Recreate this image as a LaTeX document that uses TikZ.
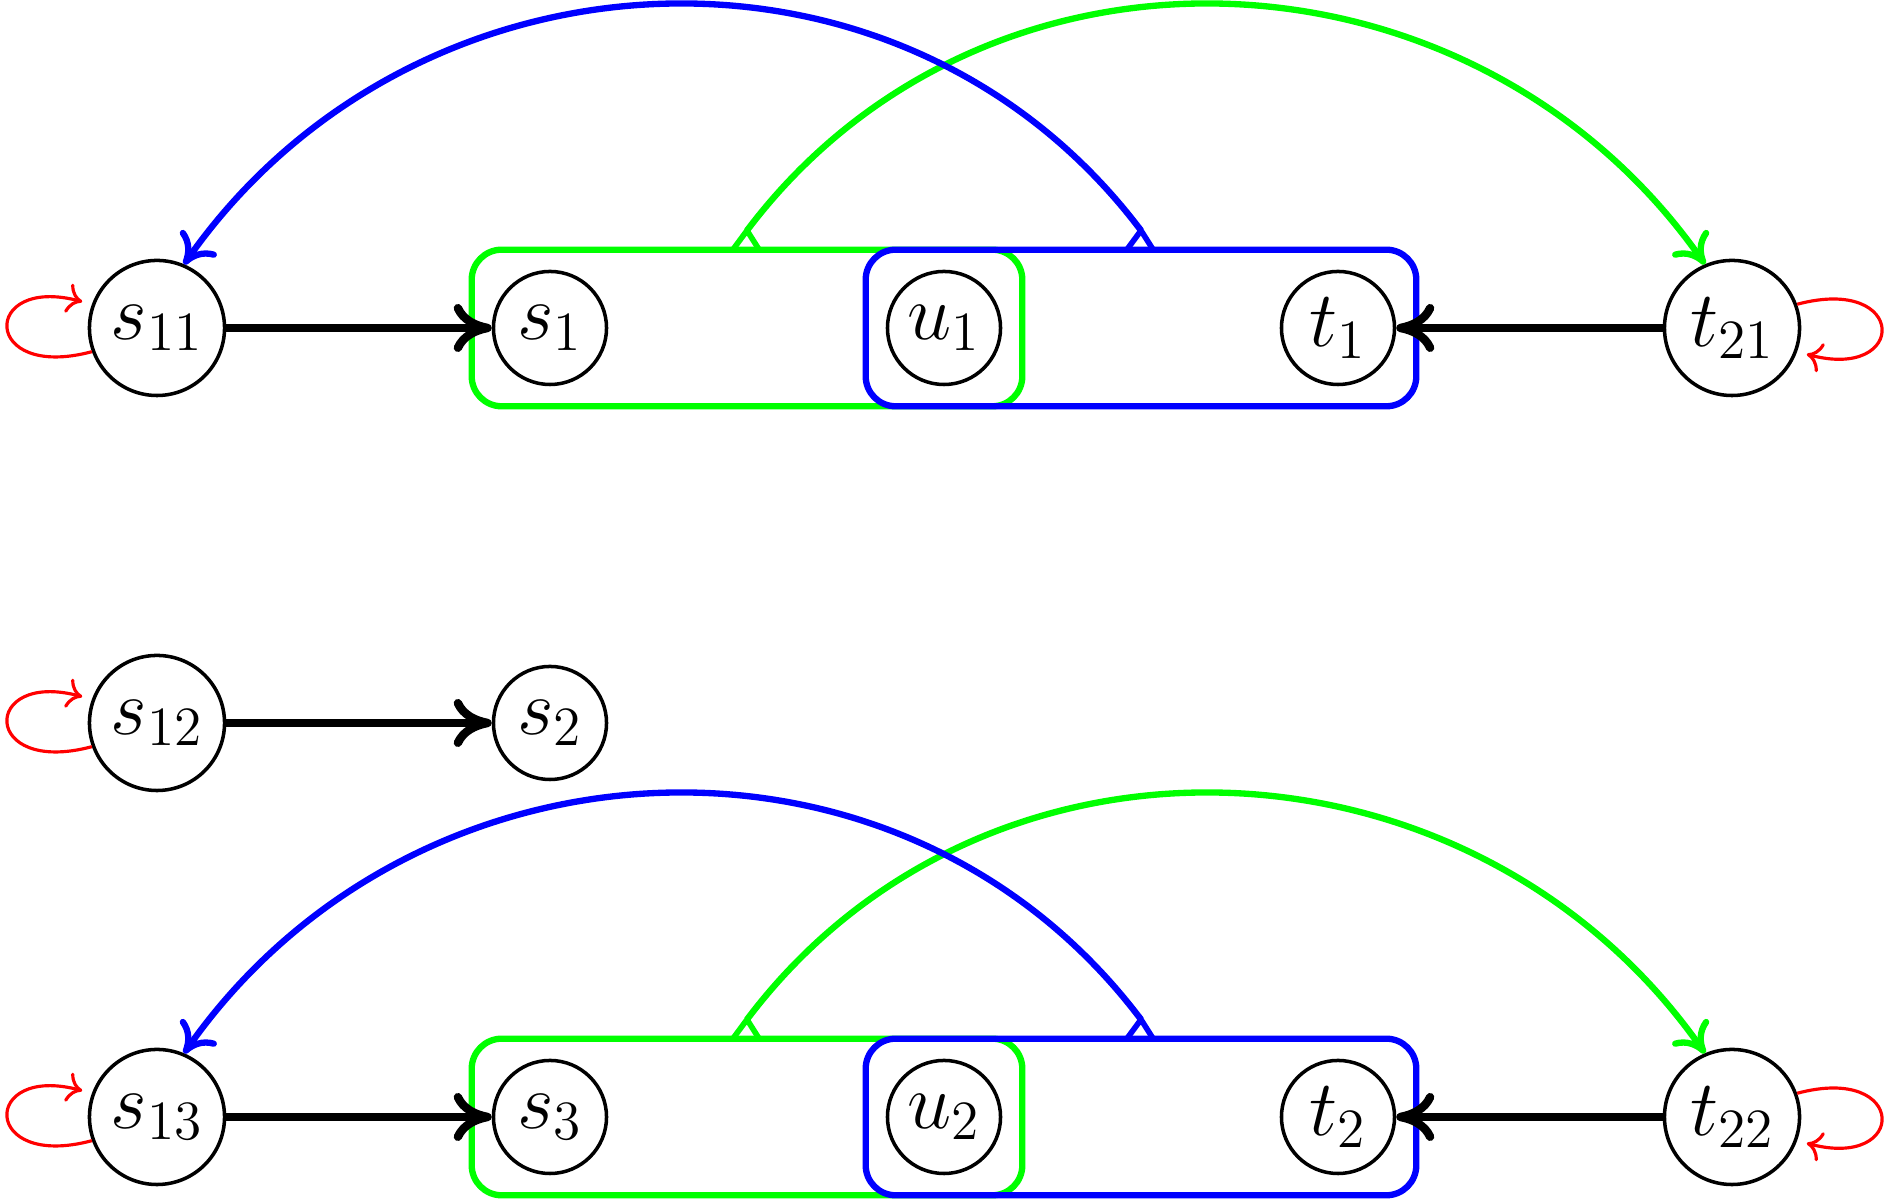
\RequirePackage{fix-cm}
\documentclass[tikz,border=0pt]{standalone}
\usetikzlibrary{arrows.meta,fit}
\definecolor{pgreen}{RGB}{0,255,0}
\definecolor{pblue}{RGB}{0,0,255}
\definecolor{pred}{RGB}{255,0,0}
\tikzset{
  state/.style={circle, draw=black, line width=1pt, inner sep=0pt, font=\fontsize{22.5}{27}\selectfont},
  bigstate/.style={state, minimum size=1.35cm},
  smallstate/.style={state, minimum size=1.13cm},
  blk/.style={black, line width=2.4pt, -{To[length=0.38cm,width=0.48cm]}},
  loopred/.style={pred, line width=0.9pt, -{To[length=0.15cm,width=0.3cm]}, shorten >=0.1cm},
  greenbox/.style={draw=pgreen, line width=1.8pt, rounded corners=0.3cm, inner sep=0.2cm},
  bluebox/.style={draw=pblue, line width=1.8pt, rounded corners=0.3cm, inner sep=0.2cm},
  arcg/.style={pgreen, line width=1.8pt, -{To[length=0.28cm,width=0.44cm]}},
  arcb/.style={pblue, line width=1.8pt, -{To[length=0.28cm,width=0.44cm]}},
  wedgeg/.style={pgreen, line width=1.6pt, line join=miter},
  wedgeb/.style={pblue, line width=1.6pt, line join=miter}
}
\begin{document}
\begin{tikzpicture}[x=0.01cm,y=0.01cm]
\useasboundingbox (0,0) rectangle (1890,1201);
% top block
\node[bigstate] (s11) at (157,873) {$s_{11}$};
\node[smallstate] (s1) at (550,873) {$s_1$};
\node[smallstate] (u1) at (944,873) {$u_1$};
\node[smallstate] (t1) at (1338,873) {$t_1$};
\node[bigstate] (t21) at (1732,873) {$t_{21}$};
\node[greenbox, fit=(s1)(u1)] (gb1) {};
\node[bluebox, fit=(u1)(t1)] (bb1) {};
\coordinate (ga1) at ([yshift=0.16cm]gb1.north);
\coordinate (ba1) at ([yshift=0.16cm]bb1.north);
\draw[wedgeg] ([shift={(-0.14cm,-0.03cm)}]gb1.north) -- (ga1) -- ([shift={(0.12cm,-0.03cm)}]gb1.north);
\draw[arcg] (ga1) to[out=53,in=125,distance=4.0cm] (t21.113);
\draw[wedgeb] ([shift={(-0.14cm,-0.03cm)}]bb1.north) -- (ba1) -- ([shift={(0.12cm,-0.03cm)}]bb1.north);
\draw[arcb] (ba1) to[out=127,in=55,distance=4.0cm] (s11.67);
\draw[blk] (s11) -- (s1);
\draw[blk] (t21) -- (t1);
\draw[loopred] (s11.200) to[out=195,in=165,distance=1.15cm] (s11.160);
\draw[loopred] (t21.20) to[out=15,in=-15,distance=1.15cm] (t21.-20);
% middle
\node[bigstate] (s12) at (157,478) {$s_{12}$};
\node[smallstate] (s2) at (550,478) {$s_2$};
\draw[blk] (s12) -- (s2);
\draw[loopred] (s12.200) to[out=195,in=165,distance=1.15cm] (s12.160);
% bottom block
\node[bigstate] (s13) at (157,84) {$s_{13}$};
\node[smallstate] (s3) at (550,84) {$s_3$};
\node[smallstate] (u2) at (944,84) {$u_2$};
\node[smallstate] (t2) at (1338,84) {$t_2$};
\node[bigstate] (t22) at (1732,84) {$t_{22}$};
\node[greenbox, fit=(s3)(u2)] (gb2) {};
\node[bluebox, fit=(u2)(t2)] (bb2) {};
\coordinate (ga2) at ([yshift=0.16cm]gb2.north);
\coordinate (ba2) at ([yshift=0.16cm]bb2.north);
\draw[wedgeg] ([shift={(-0.14cm,-0.03cm)}]gb2.north) -- (ga2) -- ([shift={(0.12cm,-0.03cm)}]gb2.north);
\draw[arcg] (ga2) to[out=53,in=125,distance=4.0cm] (t22.113);
\draw[wedgeb] ([shift={(-0.14cm,-0.03cm)}]bb2.north) -- (ba2) -- ([shift={(0.12cm,-0.03cm)}]bb2.north);
\draw[arcb] (ba2) to[out=127,in=55,distance=4.0cm] (s13.67);
\draw[blk] (s13) -- (s3);
\draw[blk] (t22) -- (t2);
\draw[loopred] (s13.200) to[out=195,in=165,distance=1.15cm] (s13.160);
\draw[loopred] (t22.20) to[out=15,in=-15,distance=1.15cm] (t22.-20);
\end{tikzpicture}
\end{document}
